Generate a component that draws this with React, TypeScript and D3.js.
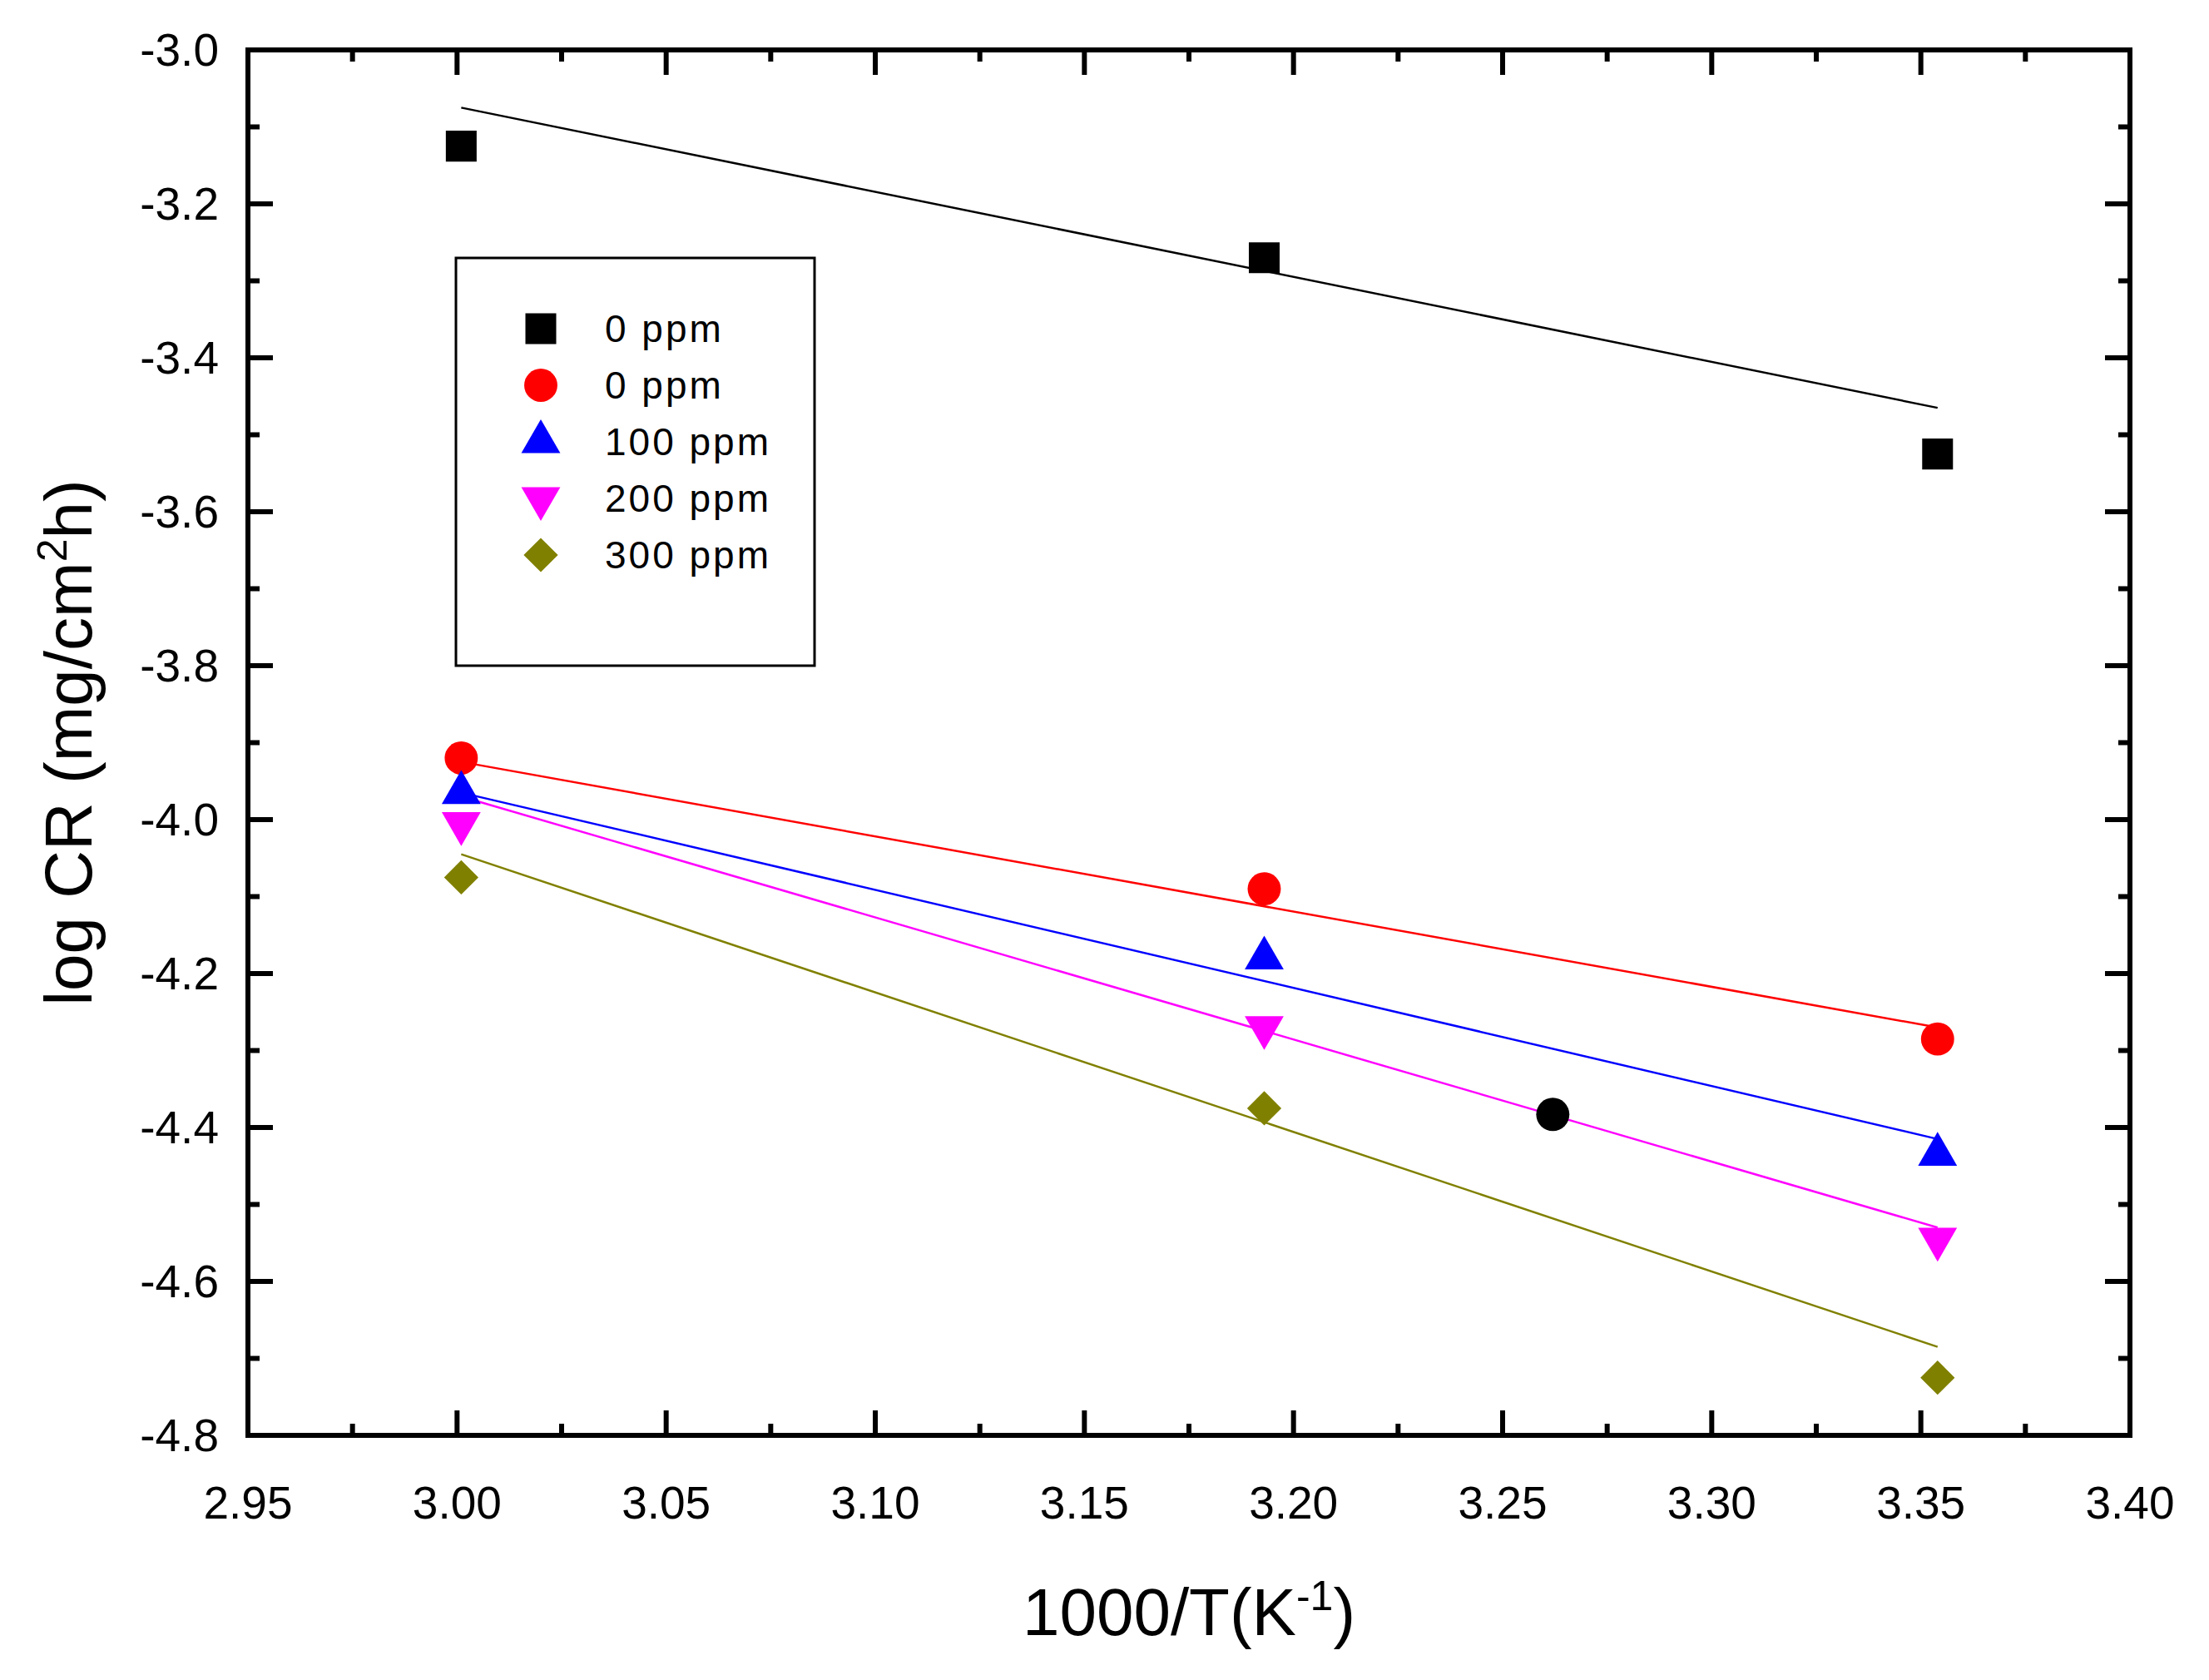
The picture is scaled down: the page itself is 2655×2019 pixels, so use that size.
import React from "react";
import * as d3 from "d3";

const W = 2655;
const H = 2019;
const margin = { top: 60, right: 95, bottom: 294, left: 298 };

const temps = [3.001, 3.193, 3.354];
const labels = ["0 ppm", "0 ppm", "100 ppm", "200 ppm", "300 ppm"];
const colors = ["#000000", "#ff0000", "#0000ff", "#ff00ff", "#808000"];
const shapes = ["square", "circle", "triangle", "triangleDown", "diamond"];
const values = [
  [-3.125, -3.27, -3.525],
  [-3.92, -4.09, -4.285],
  [-3.965, -4.18, -4.435],
  [-4.005, -4.27, -4.545],
  [-4.075, -4.375, -4.725],
];
// fitted lines: [y at 3.001, y at 3.354]
const fits = [
  [-3.075, -3.465],
  [-3.925, -4.27],
  [-3.965, -4.415],
  [-3.97, -4.53],
  [-4.045, -4.685],
];
const extraPoint = { x: 3.262, y: -4.383 };
const xTicks = [2.95, 3.0, 3.05, 3.1, 3.15, 3.2, 3.25, 3.3, 3.35, 3.4];
const yTicks = [-3.0, -3.2, -3.4, -3.6, -3.8, -4.0, -4.2, -4.4, -4.6, -4.8];

const symbolPath = (shape: string, size: number) => {
  const t: any = {
    square: d3.symbolSquare,
    circle: d3.symbolCircle,
    triangle: d3.symbolTriangle,
    triangleDown: d3.symbolTriangle,
    diamond: d3.symbolSquare,
  }[shape];
  return d3.symbol(t, size)()!;
};

const Marker = ({ shape, color, x, y }: any) => {
  const sizes: any = { square: 1370, circle: 1250, triangle: 950, triangleDown: 950, diamond: 850 };
  const rot = shape === "triangleDown" ? 180 : shape === "diamond" ? 45 : 0;
  return (
    <path
      d={symbolPath(shape, sizes[shape])}
      fill={color}
      transform={`translate(${x},${y}) rotate(${rot})`}
    />
  );
};

export default function App() {
  const x = d3.scaleLinear().domain([2.95, 3.4]).range([margin.left, W - margin.right]);
  const y = d3.scaleLinear().domain([-3.0, -4.8]).range([margin.top, H - margin.bottom]);
  const minorX = d3.range(0, 9).map((i) => 2.975 + i * 0.05);
  const minorY = d3.range(0, 9).map((i) => -3.1 - i * 0.2);
  const font = "Liberation Sans, Arial, sans-serif";
  const x0 = x(2.95), x1 = x(3.4), y0 = y(-3.0), y1 = y(-4.8);

  return (
    <svg width={W} height={H} style={{ position: "absolute", left: 0, top: 0, background: "#fff" }}>
      {/* fit lines */}
      {fits.map((f, i) => (
        <line key={i} x1={x(temps[0])} y1={y(f[0])} x2={x(temps[2])} y2={y(f[1])}
          stroke={colors[i]} strokeWidth={2.5} />
      ))}
      {/* points */}
      {values.map((vals, i) =>
        vals.map((v, j) => (
          <Marker key={`${i}-${j}`} shape={shapes[i]} color={colors[i]} x={x(temps[j])} y={y(v)} />
        ))
      )}
      <Marker shape="circle" color="#000" x={x(extraPoint.x)} y={y(extraPoint.y)} />

      {/* ticks */}
      {xTicks.map((t) => (
        <g key={t}>
          <line x1={x(t)} x2={x(t)} y1={y1} y2={y1 - 30} stroke="#000" strokeWidth={6} />
          <line x1={x(t)} x2={x(t)} y1={y0} y2={y0 + 30} stroke="#000" strokeWidth={6} />
          <text x={x(t)} y={y1 + 100} fontSize={55} fontFamily={font} textAnchor="middle">{t.toFixed(2)}</text>
        </g>
      ))}
      {minorX.map((t) => (
        <g key={t}>
          <line x1={x(t)} x2={x(t)} y1={y1} y2={y1 - 14} stroke="#000" strokeWidth={6} />
          <line x1={x(t)} x2={x(t)} y1={y0} y2={y0 + 14} stroke="#000" strokeWidth={6} />
        </g>
      ))}
      {yTicks.map((t) => (
        <g key={t}>
          <line x1={x0} x2={x0 + 30} y1={y(t)} y2={y(t)} stroke="#000" strokeWidth={6} />
          <line x1={x1} x2={x1 - 30} y1={y(t)} y2={y(t)} stroke="#000" strokeWidth={6} />
          <text x={x0 - 35} y={y(t) + 19} fontSize={55} fontFamily={font} textAnchor="end">{t.toFixed(1)}</text>
        </g>
      ))}
      {minorY.map((t) => (
        <g key={t}>
          <line x1={x0} x2={x0 + 14} y1={y(t)} y2={y(t)} stroke="#000" strokeWidth={6} />
          <line x1={x1} x2={x1 - 14} y1={y(t)} y2={y(t)} stroke="#000" strokeWidth={6} />
        </g>
      ))}
      <rect x={x0} y={y0} width={x1 - x0} height={y1 - y0} fill="none" stroke="#000" strokeWidth={6} />

      {/* legend */}
      <rect x={548} y={310} width={431} height={490} fill="#fff" stroke="#000" strokeWidth={3} />
      {labels.map((l, i) => (
        <g key={i}>
          <Marker shape={shapes[i]} color={colors[i]} x={650} y={395 + i * 68} />
          <text x={727} y={395 + i * 68 + 16} fontSize={46} fontFamily={font} letterSpacing={3}>{l}</text>
        </g>
      ))}

      {/* axis titles */}
      <text x={(x0 + x1) / 2} y={1965} fontSize={80} fontFamily={font} textAnchor="middle">
        1000/T(K<tspan dy={-30} fontSize={50}>-1</tspan><tspan dy={30}>)</tspan>
      </text>
      <text transform={`translate(110,${(y0 + y1) / 2}) rotate(-90)`} fontSize={80} fontFamily={font} textAnchor="middle">
        log CR (mg/cm<tspan dy={-30} fontSize={50}>2</tspan><tspan dy={30}>h)</tspan>
      </text>
    </svg>
  );
}
